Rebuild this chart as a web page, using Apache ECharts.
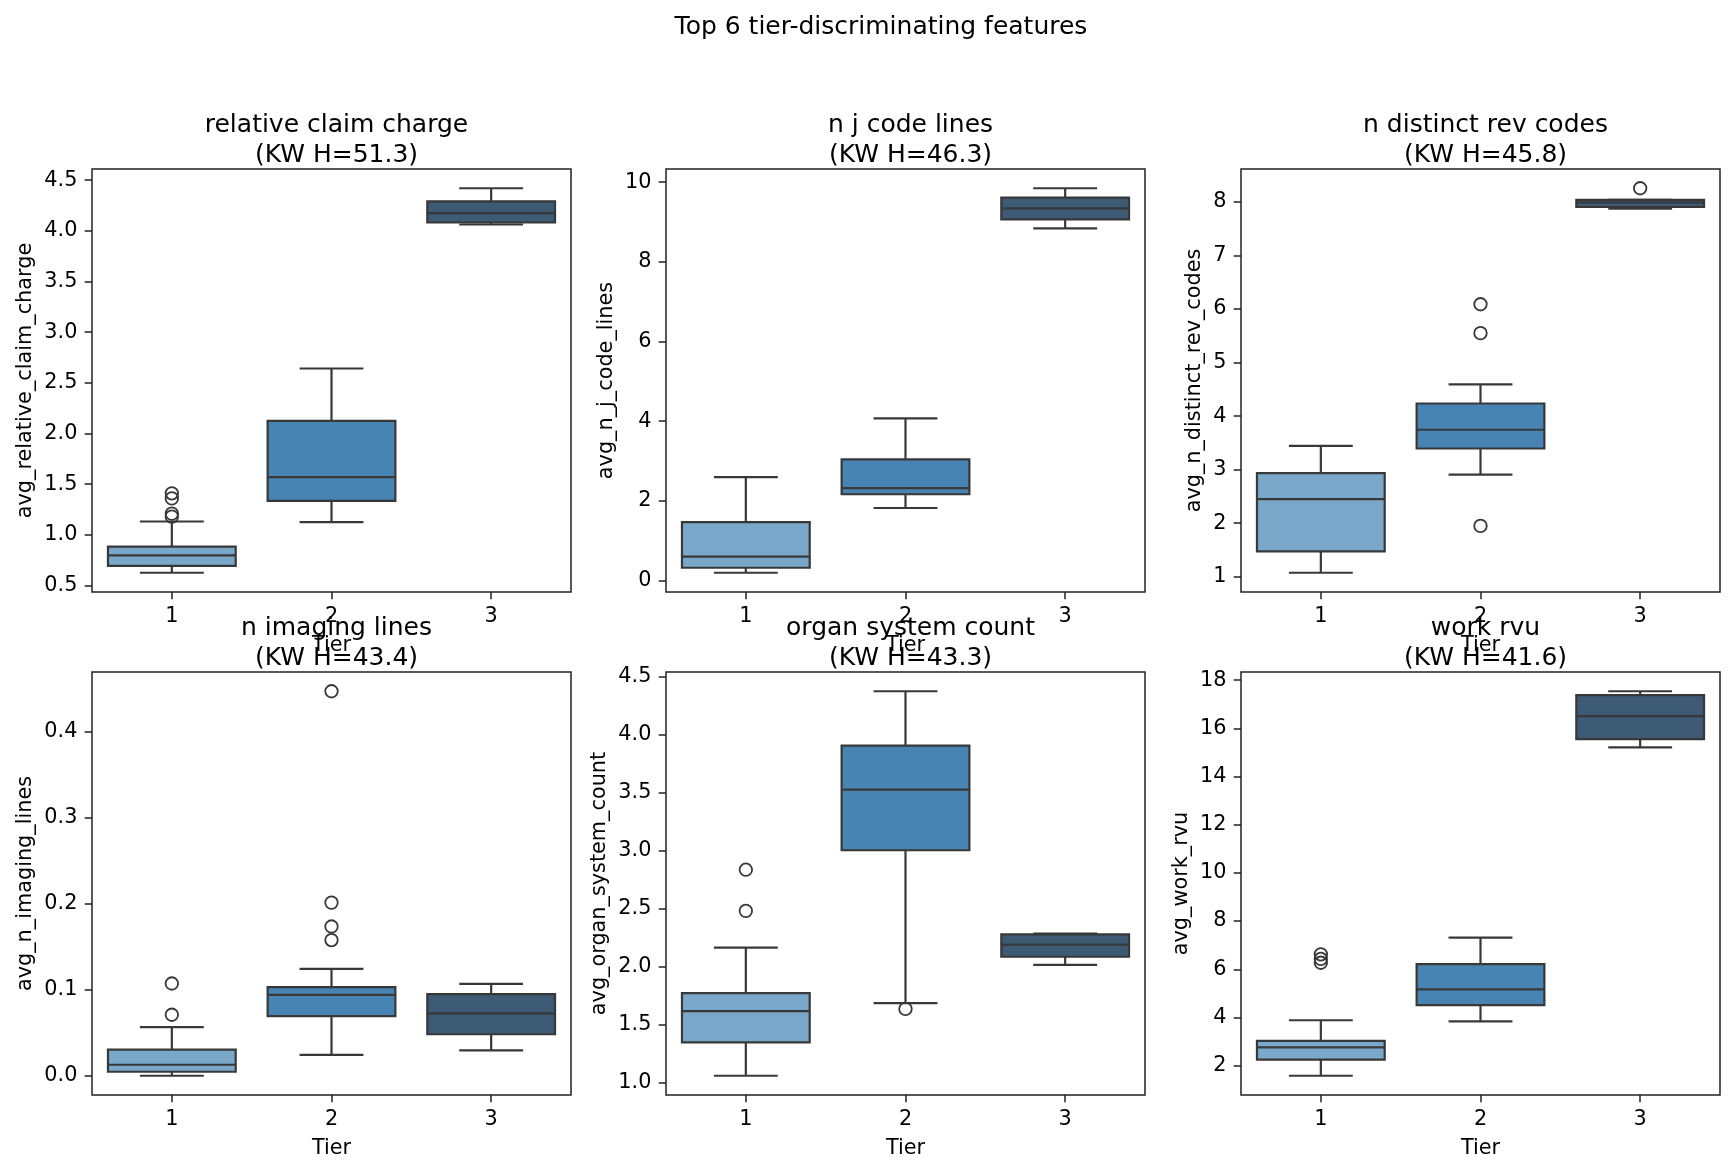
<!DOCTYPE html>
<html>
<head>
<meta charset="utf-8">
<script src="https://cdn.jsdelivr.net/npm/echarts@6/dist/echarts.min.js"></script>
<style>
html,body{margin:0;padding:0;background:#fff;}
#chart{width:1734px;height:1172px;}
</style>
</head>
<body>
<div id="chart"></div>
<script>
// ---------------- data ----------------
const tiers = ['1', '2', '3'];
const suptitle = 'Top 6 tier-discriminating features';
const featureTitles = ['relative claim charge', 'n j code lines', 'n distinct rev codes',
                       'n imaging lines', 'organ system count', 'work rvu'];
const kwH = ['51.3', '46.3', '45.8', '43.4', '43.3', '41.6'];
const yNames = ['avg_relative_claim_charge', 'avg_n_j_code_lines', 'avg_n_distinct_rev_codes',
                'avg_n_imaging_lines', 'avg_organ_system_count', 'avg_work_rvu'];
const xName = 'Tier';

// box stats per tier: [whisker low, Q1, median, Q3, whisker high]
const relClaimBoxes = [[0.626, 0.695, 0.798, 0.884, 1.132], [1.126, 1.335, 1.570, 2.126, 2.642], [4.063, 4.083, 4.176, 4.291, 4.421]];
const relClaimOutliers = [[0, 1.41], [0, 1.36], [0, 1.21], [0, 1.18]];
const relClaimTicks = ['0.5', '1.0', '1.5', '2.0', '2.5', '3.0', '3.5', '4.0', '4.5'];

const jCodeBoxes = [[0.194, 0.320, 0.598, 1.466, 2.595], [1.820, 2.165, 2.317, 3.041, 4.069], [8.838, 9.065, 9.343, 9.613, 9.848]];
const jCodeOutliers = [];
const jCodeTicks = ['0', '2', '4', '6', '8', '10'];

const revCodeBoxes = [[1.074, 1.475, 2.448, 2.937, 3.445], [2.906, 3.395, 3.746, 4.236, 4.593], [7.875, 7.906, 7.990, 8.040, 8.040]];
const revCodeOutliers = [[1, 6.09], [1, 5.55], [1, 1.95], [2, 8.257]];
const revCodeTicks = ['1', '2', '3', '4', '5', '6', '7', '8'];

const imagingBoxes = [[0.000, 0.0047, 0.0128, 0.0304, 0.0565], [0.0244, 0.0693, 0.0941, 0.1031, 0.1245], [0.0295, 0.0483, 0.0727, 0.0950, 0.1070]];
const imagingOutliers = [[0, 0.1074], [0, 0.0710], [1, 0.4475], [1, 0.2015], [1, 0.1737], [1, 0.1579]];
const imagingTicks = ['0.0', '0.1', '0.2', '0.3', '0.4'];

const organBoxes = [[1.058, 1.346, 1.616, 1.771, 2.164], [1.685, 3.004, 3.527, 3.907, 4.376], [2.015, 2.085, 2.189, 2.278, 2.284]];
const organOutliers = [[0, 2.836], [0, 2.481], [1, 1.635]];
const organTicks = ['1.0', '1.5', '2.0', '2.5', '3.0', '3.5', '4.0', '4.5'];

const rvuBoxes = [[1.58, 2.25, 2.756, 3.03, 3.884], [3.84, 4.51, 5.165, 6.216, 7.31], [15.21, 15.55, 16.51, 17.375, 17.54]];
const rvuOutliers = [[0, 6.62], [0, 6.43], [0, 6.27]];
const rvuTicks = ['2', '4', '6', '8', '10', '12', '14', '16', '18'];

const tierColors = ['#7aa8ca', '#4884b3', '#3d5b74'];

// ---------------- layout ----------------
const panels = [
  {boxes: relClaimBoxes, outliers: relClaimOutliers, ticks: relClaimTicks},
  {boxes: jCodeBoxes, outliers: jCodeOutliers, ticks: jCodeTicks},
  {boxes: revCodeBoxes, outliers: revCodeOutliers, ticks: revCodeTicks},
  {boxes: imagingBoxes, outliers: imagingOutliers, ticks: imagingTicks},
  {boxes: organBoxes, outliers: organOutliers, ticks: organTicks},
  {boxes: rvuBoxes, outliers: rvuOutliers, ticks: rvuTicks}
];
const colLeft = [92, 666, 1241];
const rowTop = [169, 672];
const gridW = 479, gridH = 423;
const FONT = 'DejaVu Sans';
const TICK_FS = 20.8, TITLE_FS = 25;
const lineCol = '#383838';
const spineCol = '#222';

const meas = document.createElement('canvas').getContext('2d');
meas.font = TICK_FS + 'px "' + FONT + '"';

const grids = [], xAxes = [], yAxes = [], series = [], titles = [];
titles.push({
  text: suptitle, left: 876, top: 10, textAlign: 'center',
  textStyle: {fontFamily: FONT, fontSize: TITLE_FS, fontWeight: 'normal', color: '#000'}
});

panels.forEach((p, i) => {
  const r = Math.floor(i / 3), c = i % 3;
  const left = colLeft[c], top = rowTop[r];
  grids.push({left: left, top: top, width: gridW, height: gridH, show: true,
              borderColor: spineCol, borderWidth: 1.5, backgroundColor: 'transparent',
              outerBoundsMode: 'none', containLabel: false});
  // data range with 5% margin (like matplotlib autoscale)
  let vals = [];
  p.boxes.forEach(b => vals = vals.concat(b));
  p.outliers.forEach(o => vals.push(o[1]));
  const dmin = Math.min(...vals), dmax = Math.max(...vals);
  const pad = (dmax - dmin) * 0.05;
  const tickVals = p.ticks.map(parseFloat);
  let maxW = 0;
  p.ticks.forEach(t => { maxW = Math.max(maxW, meas.measureText(t).width); });
  const nameGap = 14.6 + maxW + 8.3;

  xAxes.push({
    type: 'category', gridIndex: i, data: tiers, boundaryGap: true,
    name: xName, nameLocation: 'middle', nameGap: 43,
    nameTextStyle: {fontFamily: FONT, fontSize: TICK_FS, color: '#000'},
    axisLine: {show: false, onZero: false},
    axisTick: {show: true, alignWithLabel: true, length: 7.3, lineStyle: {color: spineCol, width: 1.5}},
    axisLabel: {fontFamily: FONT, fontSize: TICK_FS, color: '#000', margin: 14},
    splitLine: {show: false}
  });
  yAxes.push({
    type: 'value', gridIndex: i, min: dmin - pad, max: dmax + pad,
    name: yNames[i], nameLocation: 'middle', nameGap: nameGap, nameRotate: 90,
    nameTextStyle: {fontFamily: FONT, fontSize: TICK_FS, color: '#000'},
    axisLine: {show: false, onZero: false},
    axisTick: {show: true, length: 7.3, lineStyle: {color: spineCol, width: 1.5}, customValues: tickVals},
    axisLabel: {fontFamily: FONT, fontSize: TICK_FS, color: '#000', margin: 14.6,
                customValues: tickVals,
                formatter: v => { const k = tickVals.findIndex(t => Math.abs(t - v) < 1e-9); return k >= 0 ? p.ticks[k] : ''; }},
    splitLine: {show: false}
  });
  titles.push({
    text: featureTitles[i] + '\n(KW H=' + kwH[i] + ')',
    left: left + gridW / 2, top: top - 64, textAlign: 'center',
    textStyle: {fontFamily: FONT, fontSize: TITLE_FS, fontWeight: 'normal', color: '#000', lineHeight: 30}
  });

  series.push({
    type: 'custom', xAxisIndex: i, yAxisIndex: i,
    data: p.boxes.map((b, k) => [k].concat(b)),
    encode: {x: 0, y: [1, 2, 3, 4, 5]},
    renderItem: (params, api) => {
      const k = api.value(0);
      const lo = api.coord([k, api.value(1)]);
      const q1 = api.coord([k, api.value(2)]);
      const md = api.coord([k, api.value(3)]);
      const q3 = api.coord([k, api.value(4)]);
      const hi = api.coord([k, api.value(5)]);
      const band = api.size([1, 0])[0];
      const bw = band * 0.8, cw = band * 0.4;
      const cx = lo[0];
      const ls = {stroke: lineCol, lineWidth: 2.2, fill: null};
      return {
        type: 'group',
        children: [
          {type: 'line', shape: {x1: cx, y1: q1[1], x2: cx, y2: lo[1]}, style: ls},
          {type: 'line', shape: {x1: cx, y1: q3[1], x2: cx, y2: hi[1]}, style: ls},
          {type: 'line', shape: {x1: cx - cw / 2, y1: lo[1], x2: cx + cw / 2, y2: lo[1]}, style: ls},
          {type: 'line', shape: {x1: cx - cw / 2, y1: hi[1], x2: cx + cw / 2, y2: hi[1]}, style: ls},
          {type: 'rect', shape: {x: cx - bw / 2, y: q3[1], width: bw, height: q1[1] - q3[1]},
           style: {fill: tierColors[k], stroke: lineCol, lineWidth: 2.2}},
          {type: 'line', shape: {x1: cx - bw / 2, y1: md[1], x2: cx + bw / 2, y2: md[1]}, style: ls}
        ]
      };
    },
    z: 2
  });
  series.push({
    type: 'scatter', xAxisIndex: i, yAxisIndex: i,
    data: p.outliers,
    symbol: 'circle', symbolSize: 12.5,
    itemStyle: {color: 'rgba(0,0,0,0)', borderColor: lineCol, borderWidth: 1.8, opacity: 1},
    z: 3, silent: true
  });
});

const chart = echarts.init(document.getElementById('chart'), null, {renderer: 'canvas', width: 1734, height: 1172});
chart.setOption({
  animation: false,
  backgroundColor: '#fff',
  textStyle: {fontFamily: FONT},
  title: titles,
  grid: grids,
  xAxis: xAxes,
  yAxis: yAxes,
  series: series
});
</script>
</body>
</html>
